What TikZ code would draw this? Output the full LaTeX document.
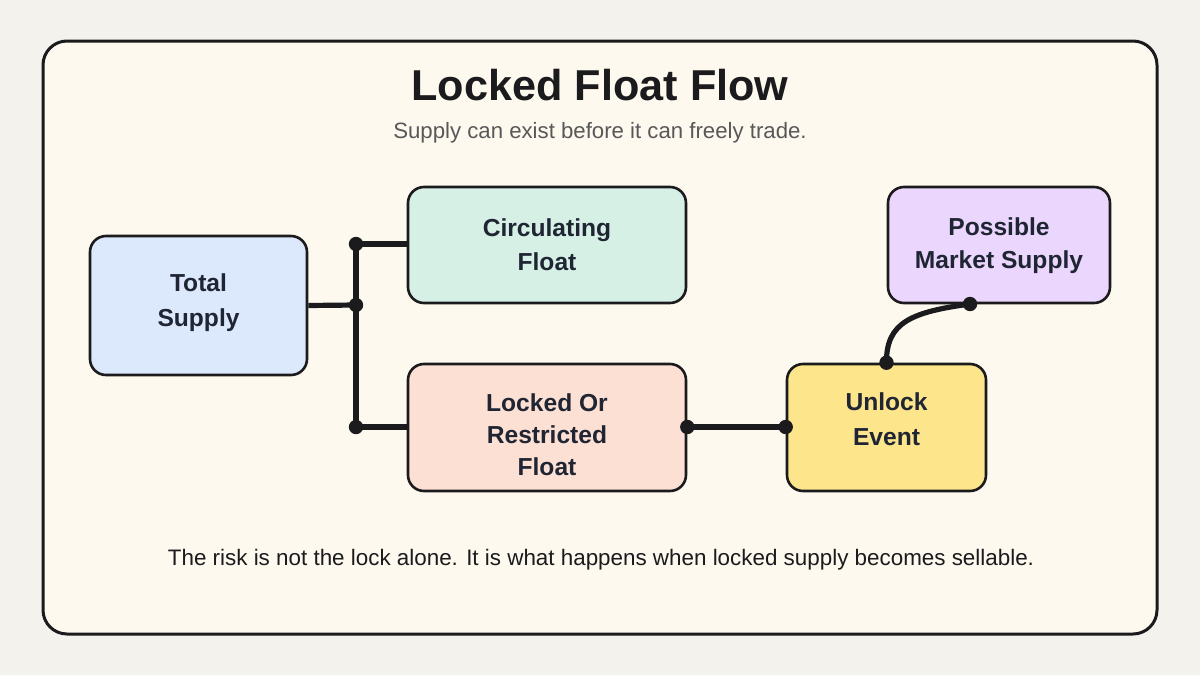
\documentclass[tikz,border=0pt]{standalone}
\usepackage{fontspec}
\setmainfont{Liberation Sans}
\usetikzlibrary{backgrounds}
\definecolor{pagebg}{HTML}{F4F2EC}
\definecolor{panel}{HTML}{FDF9EF}
\definecolor{ink}{HTML}{1B1B1D}
\definecolor{txt}{HTML}{1F2533}
\definecolor{subgray}{HTML}{585858}
\definecolor{cblue}{HTML}{DCE8FC}
\definecolor{cmint}{HTML}{D6F0E5}
\definecolor{cpeach}{HTML}{FDE0D4}
\definecolor{cyellow}{HTML}{FDE58C}
\definecolor{clilac}{HTML}{EBD6FD}
\tikzset{
  box/.style={draw=ink, line width=1.3pt, rounded corners=8pt},
  lbl/.style={align=center, text=txt, inner sep=0pt,
    font=\fontsize{12.3}{#1}\selectfont\bfseries},
  lbl/.default=17,
  conn/.style={draw=ink, line width=2.6pt},
  dot/.style={fill=ink, draw=none},
}
\begin{document}
\begin{tikzpicture}[x=0.5pt, y=-0.5pt]
\useasboundingbox (0,0) rectangle (1200,675);
\node[box, fill=cblue, minimum width=108.5pt, minimum height=69.5pt] (ts) at (198.5,305.5) {};
\node[box, fill=cmint, minimum width=139pt, minimum height=58pt] (cf) at (547,245) {};
\node[box, fill=cpeach, minimum width=139pt, minimum height=63.5pt] (lf) at (547,427.5) {};
\node[box, fill=cyellow, minimum width=99.5pt, minimum height=63.5pt] (ue) at (886.5,427.5) {};
\node[box, fill=clilac, minimum width=111pt, minimum height=58pt] (pm) at (999,245) {};
\node[lbl=17.5] (ts-t) at (198.5,302.5) {Total\\Supply};
\node[lbl=17] (cf-t) at (547,245) {Circulating\\Float};
\node[lbl=16] (lf-t) at (547,435) {Locked Or\\Restricted\\Float};
\node[lbl=17.5] (ue-t) at (886.5,419) {Unlock\\Event};
\node[lbl=16.5] (pm-t) at (999,246) {Possible\\Market Supply};
\node[font=\fontsize{21.6}{26}\selectfont\bfseries, text=ink] (title) at (600,85) {Locked Float Flow};
\node[font=\fontsize{11.1}{13}\selectfont, text=subgray] (sub) at (600,133) {Supply can exist before it can freely trade.};
\node[font=\fontsize{11.2}{13}\selectfont, text=ink] (foot) at (601,560) {The risk is not the lock alone. It is what happens when locked supply becomes sellable.};
\coordinate (j) at (356,305);
\coordinate (jt) at (356,244);
\coordinate (jb) at (356,427);
\coordinate (pmin) at (970,304);
\begin{pgfonlayer}{background}
\fill[pagebg] (0,0) rectangle (1200,675);
\draw[ink, fill=panel, line width=1.5pt, rounded corners=12pt] (43,41) rectangle (1157,634);
\draw[conn] (ts.east) -- (j);
\draw[conn] (jt) -- (jb);
\draw[conn] (jt) -- (jt -| cf.west);
\draw[conn] (jb) -- (jb -| lf.west);
\draw[conn] (lf.east |- jb) -- (ue.west |- jb);
\draw[conn] (ue.north) .. controls (886,322) and (912,312) .. (pmin);
\end{pgfonlayer}
\fill[dot] (j) circle (3.6pt);
\fill[dot] (jt) circle (3.6pt);
\fill[dot] (jb) circle (3.6pt);
\fill[dot] (lf.east |- jb) circle (3.6pt);
\fill[dot] (ue.west |- jb) circle (3.6pt);
\fill[dot] (ue.north) circle (3.6pt);
\fill[dot] (pmin) circle (3.6pt);
\end{tikzpicture}
\end{document}
